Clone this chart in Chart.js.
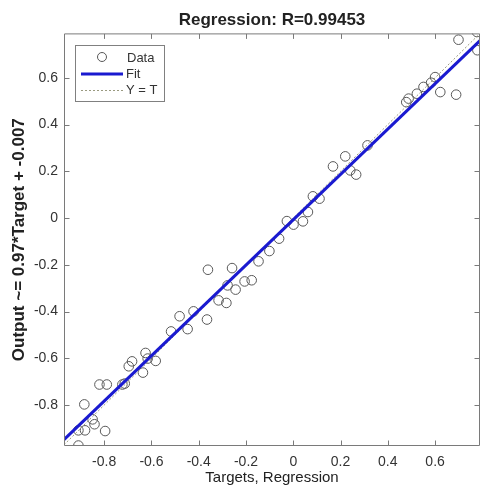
<!DOCTYPE html>
<html>
<head>
<meta charset="utf-8">
<script src="https://cdn.jsdelivr.net/npm/chart.js@4/dist/chart.umd.min.js"></script>
<style>
html,body{margin:0;padding:0;background:#fff;}
#wrap{width:480px;height:489px;}
</style>
</head>
<body>
<div id="wrap"><canvas id="c" width="480" height="489"></canvas></div>
<script>
// ---- data ----
const targets = [-0.909, -0.884, -0.909, -0.881, -0.849, -0.841, -0.796, -0.820, -0.789, -0.723, -0.713, -0.696, -0.682, -0.636, -0.625, -0.616, -0.582, -0.517, -0.447, -0.481, -0.422, -0.365, -0.361, -0.316, -0.283, -0.259, -0.278, -0.244, -0.206, -0.176, -0.147, -0.101, -0.060, -0.027, 0.001, 0.041, 0.062, 0.083, 0.111, 0.168, 0.220, 0.241, 0.266, 0.314, 0.478, 0.488, 0.523, 0.551, 0.583, 0.600, 0.622, 0.689, 0.699, 0.777, 0.779];
const outputs = [-0.973, -0.797, -0.908, -0.908, -0.861, -0.882, -0.911, -0.712, -0.712, -0.712, -0.708, -0.634, -0.613, -0.661, -0.577, -0.601, -0.611, -0.485, -0.475, -0.420, -0.399, -0.434, -0.221, -0.352, -0.363, -0.214, -0.288, -0.306, -0.271, -0.266, -0.185, -0.141, -0.088, -0.013, -0.028, -0.014, 0.026, 0.093, 0.083, 0.221, 0.264, 0.204, 0.186, 0.311, 0.496, 0.511, 0.532, 0.561, 0.579, 0.603, 0.539, 0.528, 0.763, 0.796, 0.718];
const fitX = [-0.97, 0.79];
const fitY = [-0.948, 0.759];
const identX = [-0.97, 0.79];
const identY = [-0.97, 0.79];
const xTicks = [-0.8, -0.6, -0.4, -0.2, 0, 0.2, 0.4, 0.6];
const xTickLabels = ['-0.8', '-0.6', '-0.4', '-0.2', '0', '0.2', '0.4', '0.6'];
const yTicks = [-0.8, -0.6, -0.4, -0.2, 0, 0.2, 0.4, 0.6];
const yTickLabels = ['-0.8', '-0.6', '-0.4', '-0.2', '0', '0.2', '0.4', '0.6'];
const xRange = [-0.97, 0.79];
const yRange = [-0.975, 0.79];
const titleText = 'Regression: R=0.99453';
const xTitle = 'Targets, Regression';
const yTitle = 'Output ~= 0.97*Target + -0.007';
const legendLabels = ['Data', 'Fit', 'Y = T'];
// -------------------------------------

const FONT = '"Liberation Sans", Arial, sans-serif';
const toXY = (xs, ys) => xs.map((x, i) => ({x: x, y: ys[i]}));

const frame = {
  id: 'frame',
  afterDraw(chart) {
    const {ctx, chartArea: a, scales} = chart;
    ctx.save();
    ctx.strokeStyle = '#7a7a7a';
    ctx.lineWidth = 1;
    const L = a.left + 0.5, T = a.top + 0.5, R = Math.min(a.right, chart.width) - 0.5, B = a.bottom - 0.5;
    ctx.beginPath();
    ctx.moveTo(L, T); ctx.lineTo(R, T); ctx.lineTo(R, B); ctx.lineTo(L, B); ctx.closePath();
    ctx.stroke();
    const tl = 5;
    ctx.beginPath();
    xTicks.forEach(v => {
      const px = Math.round(scales.x.getPixelForValue(v)) + 0.5;
      ctx.moveTo(px, B); ctx.lineTo(px, B - tl);
      ctx.moveTo(px, T); ctx.lineTo(px, T + tl);
    });
    yTicks.forEach(v => {
      const py = Math.round(scales.y.getPixelForValue(v)) + 0.5;
      ctx.moveTo(L, py); ctx.lineTo(L + tl, py);
      ctx.moveTo(R, py); ctx.lineTo(R - tl, py);
    });
    ctx.stroke();

    // legend box
    const bx = 75.5, by = 45.5, bw = 89, bh = 56;
    ctx.fillStyle = '#fff';
    ctx.fillRect(bx, by, bw, bh);
    ctx.strokeStyle = '#808080';
    ctx.strokeRect(bx, by, bw, bh);
    const ds = chart.data.datasets;
    ctx.strokeStyle = ds[2].borderColor;
    ctx.lineWidth = 1;
    ctx.beginPath(); ctx.arc(102, 57, 4.5, 0, Math.PI * 2); ctx.stroke();
    ctx.strokeStyle = ds[0].borderColor;
    ctx.lineWidth = 3;
    ctx.beginPath(); ctx.moveTo(81, 74); ctx.lineTo(123, 74); ctx.stroke();
    ctx.strokeStyle = ds[1].borderColor;
    ctx.lineWidth = 1;
    ctx.setLineDash(ds[1].borderDash);
    ctx.beginPath(); ctx.moveTo(81, 90.5); ctx.lineTo(123, 90.5); ctx.stroke();
    ctx.setLineDash([]);
    ctx.fillStyle = '#333';
    ctx.font = '13px ' + FONT;
    ctx.textBaseline = 'middle';
    ctx.textAlign = 'left';
    ctx.fillText(legendLabels[0], 127, 58);
    ctx.fillText(legendLabels[1], 126, 74);
    ctx.fillText(legendLabels[2], 126, 90);
    ctx.restore();
  }
};

new Chart(document.getElementById('c'), {
  type: 'scatter',
  data: {
    datasets: [
      {
        label: legendLabels[1],
        data: toXY(fitX, fitY),
        showLine: true,
        borderColor: '#1a1ad0',
        borderWidth: 3,
        pointRadius: 0,
        fill: false
      },
      {
        label: legendLabels[2],
        data: toXY(identX, identY),
        showLine: true,
        borderColor: '#9a9a80',
        borderWidth: 1,
        borderDash: [2, 2],
        pointRadius: 0,
        fill: false
      },
      {
        label: legendLabels[0],
        data: toXY(targets, outputs),
        showLine: false,
        borderColor: '#585858',
        backgroundColor: 'rgba(0,0,0,0)',
        borderWidth: 1,
        pointRadius: 4.8,
        pointStyle: 'circle'
      }
    ]
  },
  options: {
    responsive: false,
    animation: false,
    devicePixelRatio: 1,
    layout: {padding: 0, autoPadding: false},
    plugins: {
      legend: {display: false},
      tooltip: {enabled: false},
      title: {
        display: true,
        text: titleText,
        fullSize: false,
        color: '#222',
        font: {family: FONT, size: 17, weight: 'bold', lineHeight: 1.2},
        padding: {top: 10, bottom: 3}
      }
    },
    scales: {
      x: {
        type: 'linear',
        min: xRange[0],
        max: xRange[1],
        afterBuildTicks: s => { s.ticks = xTicks.map(v => ({value: v})); },
        afterFit: s => { s.height = 43; s.paddingLeft = 0; s.paddingRight = 0; },
        grid: {display: false, drawTicks: false},
        border: {display: false},
        ticks: {
          color: '#333',
          font: {family: FONT, size: 14},
          padding: 8,
          maxRotation: 0,
          autoSkip: false,
          callback: (v, i) => xTickLabels[i]
        },
        title: {
          display: true,
          text: xTitle,
          color: '#222',
          font: {family: FONT, size: 15, lineHeight: 1.2},
          padding: {top: 0, bottom: 2}
        }
      },
      y: {
        type: 'linear',
        min: yRange[0],
        max: yRange[1],
        afterBuildTicks: s => { s.ticks = yTicks.map(v => ({value: v})); },
        afterFit: s => { s.width = 64; s.paddingTop = 0; s.paddingBottom = 0; },
        grid: {display: false, drawTicks: false},
        border: {display: false},
        ticks: {
          color: '#333',
          font: {family: FONT, size: 14},
          padding: 6,
          autoSkip: false,
          callback: (v, i) => yTickLabels[i]
        },
        title: {
          display: true,
          text: yTitle,
          color: '#222',
          font: {family: FONT, size: 17, weight: 'bold', lineHeight: 1.2},
          padding: {top: 9, bottom: 0}
        }
      }
    }
  },
  plugins: [frame]
});
</script>
</body>
</html>
